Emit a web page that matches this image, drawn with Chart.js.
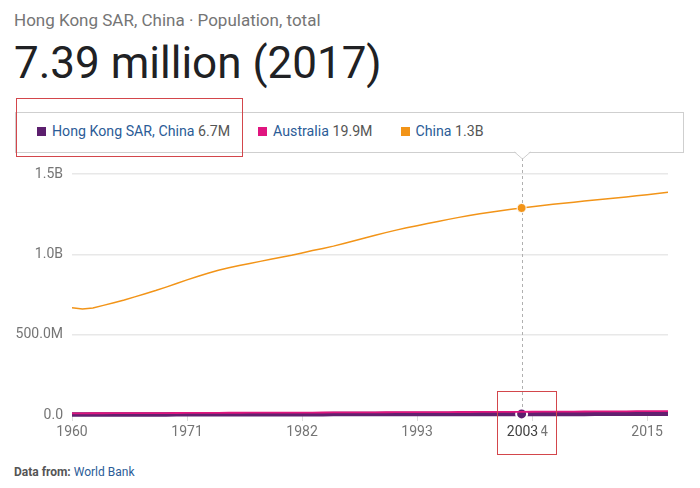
<!DOCTYPE html>
<html><head><meta charset="utf-8">
<script src="https://cdn.jsdelivr.net/npm/chart.js@4.4.1/dist/chart.umd.min.js"></script>
<style>
html,body{margin:0;padding:0;background:#fff;}
body{width:700px;height:488px;position:relative;overflow:hidden;font-family:Roboto,"Noto Sans",sans-serif;}
#sub{position:absolute;left:14px;top:9px;font-size:17px;color:#757575;white-space:nowrap;line-height:22px;}
#big{position:absolute;left:14px;top:37px;font-size:44px;color:#202124;white-space:nowrap;line-height:52px;}
#tipbox{position:absolute;left:15px;top:112px;width:667px;height:39px;border:1px solid #cfcfcf;background:#fff;}
#legend{position:absolute;left:37px;top:122px;height:18px;font-size:14.2px;white-space:nowrap;display:flex;gap:28px;}
.item{display:flex;align-items:center;}
.sq{display:inline-block;width:9px;height:9px;margin-right:6px;}
.name{color:#2b5c97;} .val{color:#555;}
#src{position:absolute;left:14px;top:464px;font-size:12px;line-height:16px;white-space:nowrap;}
#src b{color:#555;} #src span{color:#2b5c97;}
.red{position:absolute;border:1px solid #d3464b;z-index:5;}
canvas{position:absolute;left:0;top:0;z-index:2;}
</style></head>
<body>
<div id="sub">Hong Kong SAR, China · Population, total</div>
<div id="big">7.39 million (2017)</div>
<div id="tipbox"></div>
<div id="legend"></div>
<div id="src"><b>Data from:</b> <span>World Bank</span></div>
<canvas id="c" width="700" height="488"></canvas>
<div class="red" style="left:16px;top:98px;width:225px;height:57px;"></div>
<div class="red" style="left:497px;top:391px;width:58px;height:62px;"></div>
<script>
const YEARS = [1960,1961,1962,1963,1964,1965,1966,1967,1968,1969,1970,1971,1972,1973,1974,1975,1976,1977,1978,1979,1980,1981,1982,1983,1984,1985,1986,1987,1988,1989,1990,1991,1992,1993,1994,1995,1996,1997,1998,1999,2000,2001,2002,2003,2004,2005,2006,2007,2008,2009,2010,2011,2012,2013,2014,2015,2016,2017];
// population, millions
const HONG_KONG = [3.08,3.17,3.31,3.42,3.50,3.60,3.63,3.72,3.80,3.86,3.96,4.05,4.12,4.24,4.38,4.46,4.52,4.58,4.67,4.93,5.06,5.18,5.26,5.35,5.40,5.46,5.52,5.58,5.63,5.69,5.70,5.75,5.80,5.90,6.04,6.16,6.44,6.49,6.54,6.61,6.67,6.71,6.74,6.73,6.78,6.81,6.86,6.92,6.96,6.97,7.02,7.07,7.15,7.18,7.23,7.29,7.34,7.39];
const AUSTRALIA = [10.28,10.48,10.74,10.95,11.17,11.39,11.65,11.80,12.01,12.26,12.51,12.94,13.18,13.38,13.72,13.89,14.03,14.19,14.36,14.51,14.69,14.93,15.18,15.37,15.54,15.76,16.02,16.26,16.53,16.81,17.07,17.28,17.50,17.67,17.86,18.07,18.31,18.52,18.71,18.93,19.15,19.41,19.65,19.90,20.13,20.40,20.70,20.83,21.25,21.69,22.03,22.34,22.74,23.15,23.50,23.85,24.21,24.60];
const CHINA = [667.1,660.3,665.8,682.3,698.4,715.2,735.4,754.6,774.5,796.0,818.3,841.1,862.0,881.9,900.4,916.4,930.7,943.5,956.2,969.0,981.2,993.9,1008.6,1023.3,1036.8,1051.0,1066.8,1084.0,1101.6,1118.7,1135.2,1150.8,1165.0,1178.4,1191.8,1204.9,1217.6,1230.1,1241.9,1252.7,1262.6,1271.9,1280.4,1288.4,1296.1,1303.7,1311.0,1317.9,1324.7,1331.3,1337.7,1344.1,1350.7,1357.4,1364.3,1371.2,1378.7,1386.4];
const SERIES_NAMES = ["Hong Kong SAR, China","Australia","China"];
const LEGEND_VALUES = ["6.7M","19.9M","1.3B"];
const COLORS = ["#5c1f6e","#e0157f","#f29418"];
const X_TICKS = [1960,1971,1982,1993,2004,2015];
const Y_TICKS = [0,500,1000,1500];
const Y_TICK_LABELS = ["0.0","500.0M","1.0B","1.5B"];
const HOVER_YEAR = 2003;

// legend (HTML)
const leg = document.getElementById('legend');
SERIES_NAMES.forEach((n,i)=>{
  const it=document.createElement('div'); it.className='item';
  it.innerHTML='<span class="sq" style="background:'+COLORS[i]+'"></span><span class="name">'+n+'</span>&nbsp;<span class="val">'+LEGEND_VALUES[i]+'</span>';
  leg.appendChild(it);
});

const pts = arr => YEARS.map((y,i)=>({x:y,y:arr[i]}));
const FONT = {family:'Roboto, "Noto Sans", sans-serif', size:14};

const hoverPlugin = {
  id:'hover',
  beforeDatasetsDraw(chart){
    const x = Math.round(chart.scales.x.getPixelForValue(HOVER_YEAR))+0.5;
    const ctx = chart.ctx; ctx.save();
    ctx.strokeStyle='#b0b0b0'; ctx.lineWidth=1; ctx.setLineDash([3,3]);
    ctx.beginPath(); ctx.moveTo(x,158); ctx.lineTo(x,chart.chartArea.bottom); ctx.stroke();
    ctx.restore();
  },
  afterDraw(chart){
    const x = Math.round(chart.scales.x.getPixelForValue(HOVER_YEAR))+0.5;
    const ctx = chart.ctx; ctx.save();
    ctx.fillStyle='#fff';
    ctx.beginPath(); ctx.moveTo(x-8,151); ctx.lineTo(x,158.5); ctx.lineTo(x+8,151); ctx.closePath(); ctx.fill();
    ctx.strokeStyle='#cfcfcf'; ctx.lineWidth=1;
    ctx.beginPath(); ctx.moveTo(x-8,152); ctx.lineTo(x,159); ctx.lineTo(x+8,152); ctx.stroke();
    ctx.font='14px Roboto, "Noto Sans", sans-serif';
    const t=String(HOVER_YEAR); const w=ctx.measureText(t).width;
    ctx.fillStyle='#fff'; ctx.fillRect(x-w/2-3,424,w+6,17);
    ctx.fillStyle='#424242'; ctx.textAlign='center'; ctx.textBaseline='middle';
    ctx.fillText(t,x,432);
    ctx.restore();
  }
};

const hoverRadius = r => c => (c.raw && c.raw.x===HOVER_YEAR) ? r : 0;

new Chart(document.getElementById('c'), {
  type:'line',
  data:{datasets:[
    {label:SERIES_NAMES[2], data:pts(CHINA), borderColor:COLORS[2], backgroundColor:COLORS[2], borderWidth:1.5, clip:false,
     pointRadius:hoverRadius(4.5), pointBorderColor:'#fff', pointBorderWidth:1, pointBackgroundColor:COLORS[2]},
    {label:SERIES_NAMES[1], data:pts(AUSTRALIA), borderColor:COLORS[1], backgroundColor:COLORS[1], borderWidth:1.8, pointRadius:0, clip:false},
    {label:SERIES_NAMES[0], data:pts(HONG_KONG), borderColor:'#62206f', backgroundColor:COLORS[0], borderWidth:4.5, clip:false,
     pointRadius:hoverRadius(5.5), pointBorderColor:'#fff', pointBorderWidth:2, pointBackgroundColor:COLORS[0]}
  ]},
  options:{
    responsive:false, animation:false, events:[],
    layout:{padding:{top:174,right:32,bottom:43,left:0}},
    plugins:{legend:{display:false},tooltip:{enabled:false}},
    scales:{
      x:{type:'linear', min:1960, max:2017,
        afterBuildTicks:s=>{s.ticks=X_TICKS.map(v=>({value:v}));},
        afterFit:s=>{s.height=30;},
        ticks:{callback:v=>String(v), color:'#757575', font:FONT, padding:3, maxRotation:0, autoSkip:false},
        grid:{drawOnChartArea:false, tickLength:6, color:'#dcdcdc'}, border:{display:false}},
      y:{min:0, max:1500,
        afterBuildTicks:s=>{s.ticks=Y_TICKS.map(v=>({value:v}));},
        afterFit:s=>{s.width=72;},
        ticks:{callback:(v,i)=>Y_TICK_LABELS[i], color:'#757575', font:FONT, padding:9},
        grid:{drawTicks:false, color:'#e8e8e8', lineWidth:1.5}, border:{display:false}}
    }
  },
  plugins:[hoverPlugin]
});
</script>
</body></html>
